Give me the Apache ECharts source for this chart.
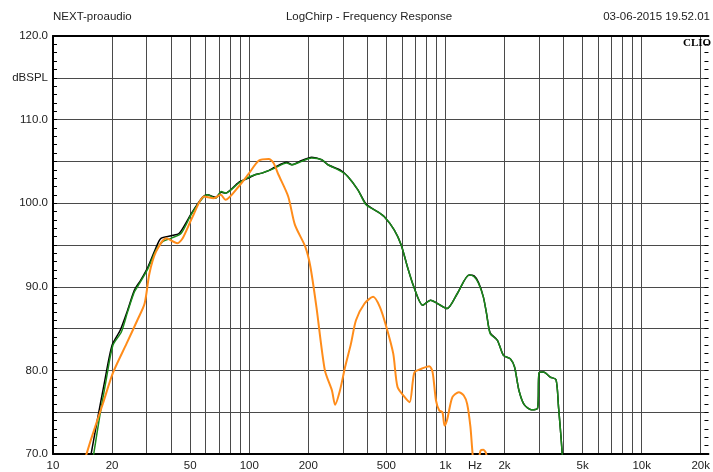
<!DOCTYPE html>
<html><head><meta charset="utf-8">
<script src="https://cdn.jsdelivr.net/npm/echarts@6/dist/echarts.min.js"></script>
<style>html,body{margin:0;padding:0;background:#fff}#c{width:713px;height:472px}</style>
</head><body><div id="c"></div>
<script>
// ---- data (Hz, dBSPL) ----
const greenFreq = [16.0,17.3,18.7,20.2,22.3,24.0,26.0,27.6,30.5,33.5,36.2,39.9,45.0,50.5,57.8,61.2,67.5,72.0,75.7,88.4,99.3,107,116,125.6,135,155,165,185,208,234,252,294,318,358,394,450,487,548,595,640,690,765,840,910,1020,1150,1320,1400,1475,1560,1620,1690,1840,1975,2140,2250,2370,2520,2740,2950,3000,3160,3420,3660,3770,3880,3950];
const greenDb   = [69.5,74.5,79.0,83.0,84.6,87.0,89.4,90.4,92.2,94.4,95.4,95.8,96.4,98.6,100.6,101.0,100.6,101.4,101.2,102.4,103.1,103.4,103.6,103.9,104.2,104.8,104.6,105.0,105.4,105.2,104.6,103.8,103.2,101.6,99.8,99.0,98.4,96.8,95.0,92.4,90.0,87.8,88.4,88.0,87.4,89.2,91.4,91.2,90.4,88.8,86.8,84.4,83.6,81.8,81.4,80.4,77.6,75.9,75.3,75.5,79.7,79.8,79.2,78.9,75.6,72.1,69.5];

const blackFreq = [15.5,16.8,18.3,20.0,22.0,24.0,26.0,28.0,30.5,33.5,35.5,40.0,44.0,50.5,57.8,61.2,67.5,72.0,75.7,88.4,99.3,107,116,125.6,135,155,165,185,208,234,252,294,318,358,394,450,487,548,595,640,690,765,840,910,1020,1150,1320,1400,1475,1560,1620,1690,1840,1975,2140,2250,2370,2520,2740,2950,3000,3160,3420,3660,3770,3880,3950];
const blackDb   = [69.5,74.0,78.6,83.0,84.8,87.2,89.6,90.8,92.4,94.7,95.8,96.1,96.4,98.7,100.7,101.0,100.7,101.3,101.2,102.5,103.0,103.4,103.6,103.9,104.3,104.9,104.6,105.1,105.5,105.2,104.6,103.9,103.2,101.6,99.9,99.0,98.4,96.8,95.0,92.4,90.0,87.8,88.4,88.0,87.4,89.2,91.4,91.3,90.5,88.8,86.8,84.5,83.6,81.8,81.4,80.4,77.6,75.9,75.3,75.5,79.7,79.8,79.2,78.9,75.6,72.1,69.5];

const orangeFreq = [14.6,15.7,18.0,20.2,23.7,26.9,29.3,31.0,33.5,37.8,43.0,45.8,51.5,58.9,66.0,71.6,75.7,88.4,99.3,112,125.6,133,141,158,171,193,205,220,243,264,274,290,308,330,350,387,428,463,500,542,570,620,657,683,697,754,828,860,895,930,965,990,1020,1085,1170,1240,1290,1340,1370,1400,1460,1510,1560,1610,1650];
const orangeDb   = [69.5,71.9,76.1,79.7,83.2,86.0,88.0,91.6,94.2,95.8,95.2,95.8,98.4,100.8,100.6,101.0,100.4,102.0,103.5,105.1,105.3,104.8,103.4,100.8,97.4,94.8,92.4,87.6,80.0,77.6,75.9,77.6,80.4,83.2,86.0,88.0,88.8,87.6,85.2,82.0,78.0,76.8,76.2,78.8,79.8,80.2,80.5,79.8,76.4,75.2,75.0,73.4,74.1,76.8,77.4,77.0,76.0,73.3,70.5,68.5,68.8,70.4,70.5,70.1,68.5];

// ---- axis tick / label values ----
const gridFreqs = [10,20,30,40,50,60,70,80,90,100,200,300,400,500,600,700,800,900,1000,2000,3000,4000,5000,6000,7000,8000,9000,10000,20000];
const xLabelFreqs = [10,20,50,100,200,500,1000,1414,2000,5000,10000,20000];
const xLabelTexts = ['10','20','50','100','200','500','1k','Hz','2k','5k','10k','20k'];
const yLabelValues = [70,80,90,100,110,115,120];
const yLabelTexts  = ['70.0','80.0','90.0','100.0','110.0','dBSPL','120.0'];

const headerLeft = 'NEXT-proaudio';
const headerTitle = 'LogChirp - Frequency Response';
const headerRight = '03-06-2015 19.52.01';
const brand = 'CLIO';

function zip(a, b) { return a.map((v, i) => [v, b[i]]); }

const FONT = 'Liberation Sans, Arial, sans-serif';
const chart = echarts.init(document.getElementById('c'), null, {renderer: 'canvas'});
chart.setOption({
  animation: false,
  backgroundColor: '#fff',
  grid: {left: 53, right: 0, top: 36, bottom: 18, containLabel: false},
  xAxis: [{
    type: 'log', logBase: 10, min: 10, max: 21900, position: 'bottom',
    axisLine: {show: true, lineStyle: {color: '#000', width: 2}},
    axisTick: {show: false, customValues: gridFreqs},
    splitLine: {show: true, lineStyle: {color: '#4a4a4a', width: 1}},
    minorTick: {show: false}, minorSplitLine: {show: false},
    axisLabel: {
      customValues: xLabelFreqs, color: '#222', fontSize: 11.5, fontFamily: FONT, margin: 6,
      formatter: function (v) {
        let best = 0, d = Infinity;
        xLabelFreqs.forEach((f, i) => { const dd = Math.abs(Math.log(f) - Math.log(v)); if (dd < d) { d = dd; best = i; } });
        return xLabelTexts[best];
      }
    }
  }, {
    type: 'log', logBase: 10, min: 10, max: 21900, position: 'top',
    axisLine: {show: true, lineStyle: {color: '#000', width: 2}},
    axisTick: {show: false}, axisLabel: {show: false}, splitLine: {show: false}
  }],
  yAxis: [{
    type: 'value', min: 70, max: 120, interval: 5, position: 'left',
    axisLine: {show: true, lineStyle: {color: '#000', width: 2}},
    axisTick: {show: true, inside: true, length: 4, lineStyle: {color: '#000'}},
    minorTick: {show: true, splitNumber: 5, length: 4, lineStyle: {color: '#000'}},
    splitLine: {show: true, lineStyle: {color: '#4a4a4a', width: 1}},
    axisLabel: {
      color: '#222', fontSize: 11.5, fontFamily: FONT, margin: 5,
      formatter: function (v) { const i = yLabelValues.indexOf(Math.round(v)); return i >= 0 ? yLabelTexts[i] : ''; }
    }
  }, {
    type: 'value', min: 70, max: 120, interval: 5, position: 'right',
    axisLine: {show: false},
    axisTick: {show: true, inside: true, length: 4, lineStyle: {color: '#000'}},
    minorTick: {show: true, splitNumber: 5, length: 4, lineStyle: {color: '#000'}},
    splitLine: {show: false}, axisLabel: {show: false}
  }],
  series: [
    {type: 'line', name: 'black', data: zip(blackFreq, blackDb), showSymbol: false, symbol: 'none', clip: true, smooth: 0.25,
     lineStyle: {color: '#000', width: 1.5}},
    {type: 'line', name: 'green', data: zip(greenFreq, greenDb), showSymbol: false, symbol: 'none', clip: true, smooth: 0.25,
     lineStyle: {color: '#1b8a1b', width: 1.5}},
    {type: 'line', name: 'orange', data: zip(orangeFreq, orangeDb), showSymbol: false, symbol: 'none', clip: true, smooth: 0.25,
     lineStyle: {color: '#ff8c1a', width: 2}}
  ],
  graphic: [
    {type: 'text', left: 53, top: 11, style: {text: headerLeft, fill: '#222', font: '11.5px ' + FONT}},
    {type: 'text', x: 369, y: 17, style: {text: headerTitle, fill: '#222', font: '11.5px ' + FONT, textAlign: 'center', textVerticalAlign: 'middle'}},
    {type: 'text', x: 710, y: 17, style: {text: headerRight, fill: '#222', font: '11.5px ' + FONT, textAlign: 'right', textVerticalAlign: 'middle'}},
    {type: 'text', x: 683, y: 43, z: 10, style: {text: brand, fill: '#000', font: 'bold 11px "Liberation Serif", serif', textVerticalAlign: 'middle'}}
  ]
});
</script>
</body></html>
